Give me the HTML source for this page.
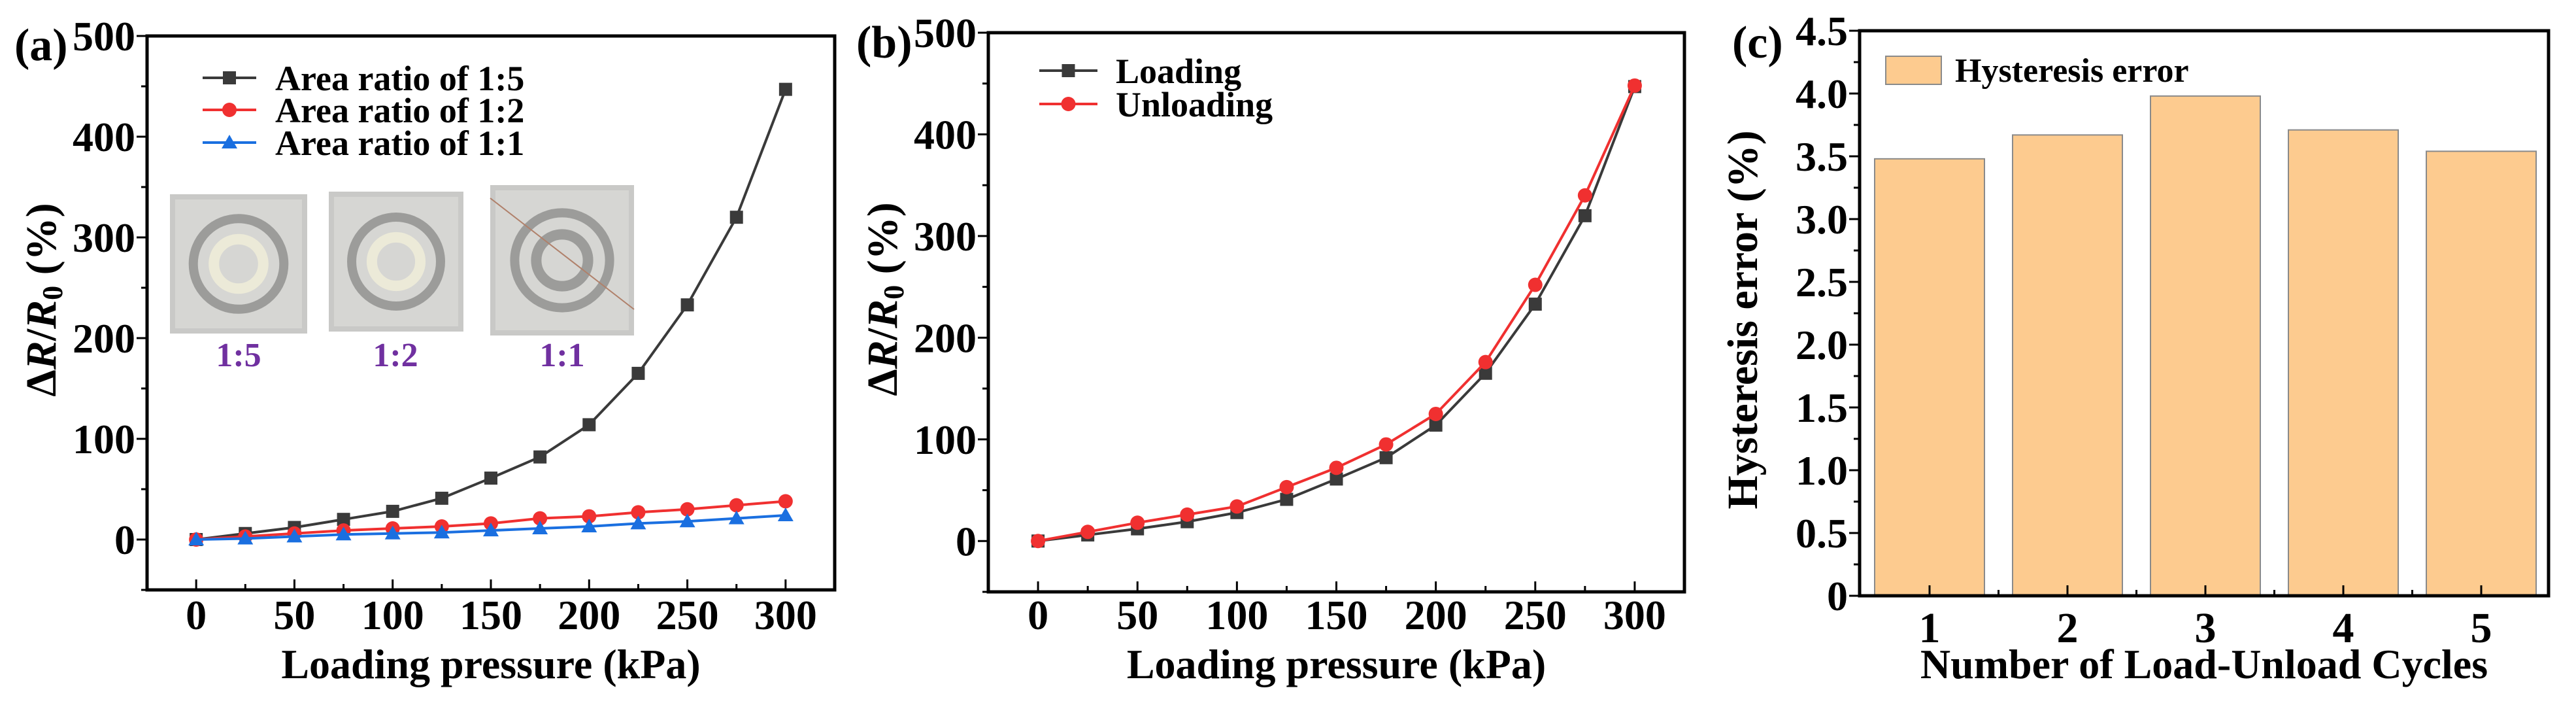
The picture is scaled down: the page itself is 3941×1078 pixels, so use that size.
<!DOCTYPE html>
<html><head><meta charset="utf-8">
<style>
html,body{margin:0;padding:0;background:#fff;}
svg{display:block;font-family:"Liberation Serif",serif;font-weight:bold;}
</style></head>
<body>
<svg id="fig" width="3941" height="1078" viewBox="0 0 3941 1078" xmlns="http://www.w3.org/2000/svg">
<g id="pa"></g>
<g id="pb"></g>
<g id="pc"></g>
</svg>
<script>
// ---- data ----
const pressures = [0,25,50,75,100,125,150,175,200,225,250,275,300];
const ratio15 = [0,6,12,20,28,41,61,82,114,165,233,320,447];
const ratio12 = [0,3,6,9,11,13,16,21,23,27,30,34,38];
const ratio11 = [0,1,3,5,6,7,9,11,13,16,18,21,24];
const loading = [0,6,12,19,28,41,61,82,114,165,233,320,447];
const unloading = [0,9,18,26,34,53,72,95,125,176,252,340,448];
const cycles = ["1","2","3","4","5"];
const hysteresis = [3.48,3.67,3.98,3.71,3.54];
const xTicksAB = [0,50,100,150,200,250,300];
const yTicksAB = [0,100,200,300,400,500];
const yTicksC = [0,0.5,1.0,1.5,2.0,2.5,3.0,3.5,4.0,4.5];
const yTickLabelsC = ["0","0.5","1.0","1.5","2.0","2.5","3.0","3.5","4.0","4.5"];

const NS="http://www.w3.org/2000/svg";
function mk(parent,tag,attrs,text){const e=document.createElementNS(NS,tag);for(const k in attrs)e.setAttribute(k,attrs[k]);if(text!==undefined)e.textContent=text;parent.appendChild(e);return e;}

function lineAxes(g,L,R,T,B,xmin,xmax,ymin,ymax){
  const sx=v=>L+(v-xmin)/(xmax-xmin)*(R-L);
  const sy=v=>B-(v-ymin)/(ymax-ymin)*(B-T);
  const fr=mk(g,'rect',{x:L,y:T,width:R-L,height:B-T,fill:'none',stroke:'#000','stroke-width':5});
  
  
  for(let v=0;v<=300;v+=25){
    const t=mk(g,'line',{x1:sx(v),x2:sx(v),y1:B,y2:B-(v%50===0?16:9),stroke:'#000','stroke-width':3});
    
    
  }
  xTicksAB.forEach(v=>{
    const t=mk(g,'text',{x:sx(v),y:962,'font-size':64,'text-anchor':'middle'},String(v));
    
    
  });
  for(let v=-50;v<=500;v+=50){
    const t=mk(g,'line',{x1:L,x2:L-(v%100===0?16:9),y1:sy(v),y2:sy(v),stroke:'#000','stroke-width':3});
    
    
  }
  yTicksAB.forEach(v=>{
    const t=mk(g,'text',{x:L-18,y:sy(v)+22,'font-size':64,'text-anchor':'end'},String(v));
    
    
  });
  const xl=mk(g,'text',{x:(L+R)/2,y:1037,'font-size':64,'text-anchor':'middle'},'Loading pressure (kPa)');
  
  
  const yl=mk(g,'text',{x:0,y:0,'font-size':66,'text-anchor':'middle',transform:`translate(${L-140},${(T+B)/2-20}) rotate(-90)`});
  
  
  yl.innerHTML='Δ<tspan font-style="italic">R</tspan>/<tspan font-style="italic">R</tspan><tspan font-size="44" dy="10">0</tspan><tspan dy="-10"> (%)</tspan>';
  return {sx,sy};
}
function marker(g,shape,x,y,color){
  let m;
  if(shape==='square') m=mk(g,'rect',{x:x-10,y:y-10,width:20,height:20,fill:color});
  else if(shape==='circle') m=mk(g,'circle',{cx:x,cy:y,r:11,fill:color});
  else m=mk(g,'polygon',{points:`${x},${y-12} ${x+12},${y+9} ${x-12},${y+9}`,fill:color});
  return m;
}
function series(g,ax,xs,ys,color,shape,name){
  const sg=mk(g,'g',{});
  
  
  const pts=xs.map((x,i)=>ax.sx(x)+','+ax.sy(ys[i])).join(' ');
  mk(sg,'polyline',{points:pts,fill:'none',stroke:color,'stroke-width':4});
  xs.forEach((x,i)=>{
    const m=marker(sg,shape,ax.sx(x),ax.sy(ys[i]),color);
    
    
  });
}
function legendEntry(g,x1,x2,y,tx,color,shape,label,fs){
  const lg=mk(g,'g',{});
  
  
  mk(lg,'line',{x1:x1,x2:x2,y1:y,y2:y,stroke:color,'stroke-width':4});
  marker(lg,shape,(x1+x2)/2,y,color);
  mk(lg,'text',{x:tx,y:y+19,'font-size':fs},label);
}

// ---- panel a ----
const ga=document.getElementById('pa');
const pl=mk(ga,'text',{x:22,y:92,'font-size':70},'(a)');


// photos
const photos=[[260,297,210,213,'1:5',365],[503,293,206,214,'1:2',605],[750,283,220,230,'1:1',860]];
photos.forEach((p,i)=>{
  const pg=mk(ga,'g',{});
  
  
  mk(pg,'rect',{x:p[0],y:p[1],width:p[2],height:p[3],fill:'#c9c9c7'});
  mk(pg,'rect',{x:p[0]+8,y:p[1]+8,width:p[2]-16,height:p[3]-16,fill:'#d6d6d3'});
  const cx=p[0]+p[2]/2,cy=p[1]+p[3]/2;
  mk(pg,'circle',{cx:cx,cy:cy,r:p[2]*0.33,fill:'none',stroke:'#9c9c9a','stroke-width':14});
  mk(pg,'circle',{cx:cx,cy:cy,r:p[2]*0.18,fill:'none',stroke:i===2?'#9c9c9a':'#ecead8','stroke-width':16});
  mk(pg,'line',{x1:p[0],y1:p[1]+20,x2:p[0]+p[2],y2:p[1]+p[3]-40,stroke:'#b0806a','stroke-width':2,opacity:i===2?1:0});
  const t=mk(ga,'text',{x:p[5],y:560,'font-size':52,fill:'#7030a0','text-anchor':'middle'},p[4]);
  
  
});
const axA=lineAxes(ga,225,1277,55,902,-25,325,-50,500);
series(ga,axA,pressures,ratio15,'#3a3a3a','square','series-ratio-1-5');
series(ga,axA,pressures,ratio12,'#f03030','circle','series-ratio-1-2');
series(ga,axA,pressures,ratio11,'#1a6fe0','triangle','series-ratio-1-1');
legendEntry(ga,310,392,119,421,'#3a3a3a','square','Area ratio of 1:5',54);
legendEntry(ga,310,392,168,421,'#f03030','circle','Area ratio of 1:2',54);
legendEntry(ga,310,392,218,421,'#1a6fe0','triangle','Area ratio of 1:1',54);

// ---- panel b ----
const gb=document.getElementById('pb');
const plb=mk(gb,'text',{x:1310,y:88,'font-size':70},'(b)');


const axB=lineAxes(gb,1512,2577,50,905,-25,325,-50,500);
series(gb,axB,pressures,loading,'#3a3a3a','square','series-loading');
series(gb,axB,pressures,unloading,'#f03030','circle','series-unloading');
legendEntry(gb,1590,1679,108,1707,'#3a3a3a','square','Loading',54);
legendEntry(gb,1590,1679,159,1707,'#f03030','circle','Unloading',54);

// ---- panel c ----
const gc=document.getElementById('pc');
const plc=mk(gc,'text',{x:2650,y:88,'font-size':70},'(c)');


const L=2845,R=3899,T=47,B=911;
const syc=v=>B-v/4.5*(B-T);
const sxc=i=>2952+i*211;
hysteresis.forEach((v,i)=>{
  const b=mk(gc,'rect',{x:sxc(i)-84,y:syc(v),width:168,height:B-syc(v),fill:'#fdcb8f',stroke:'#8a8a8a','stroke-width':2});
  
  
});
const frc=mk(gc,'rect',{x:L,y:T,width:R-L,height:B-T,fill:'none',stroke:'#000','stroke-width':5});


cycles.forEach((c,i)=>{
  const t=mk(gc,'line',{x1:sxc(i),x2:sxc(i),y1:B,y2:B-16,stroke:'#000','stroke-width':3});
  
  
  if(i<cycles.length-1){
    const m=mk(gc,'line',{x1:sxc(i)+105.5,x2:sxc(i)+105.5,y1:B,y2:B-9,stroke:'#000','stroke-width':3});
    
    
  }
  const l=mk(gc,'text',{x:sxc(i),y:982,'font-size':66,'text-anchor':'middle'},c);
  
  
});
for(let v=0;v<=4.5001;v+=0.25){
  const major=Math.abs(v*2-Math.round(v*2))<1e-6;
  const t=mk(gc,'line',{x1:L,x2:L-(major?16:9),y1:syc(v),y2:syc(v),stroke:'#000','stroke-width':3});
  
  
}
yTicksC.forEach((v,i)=>{
  const t=mk(gc,'text',{x:L-18,y:syc(v)+22,'font-size':64,'text-anchor':'end'},yTickLabelsC[i]);
  
  
});
const lgc=mk(gc,'g',{});


mk(lgc,'rect',{x:2885,y:86,width:85,height:43,fill:'#fdcb8f',stroke:'#8a8a8a','stroke-width':2});
mk(lgc,'text',{x:2991,y:125,'font-size':52},'Hysteresis error');
const xlc=mk(gc,'text',{x:(L+R)/2,y:1037,'font-size':64,'text-anchor':'middle'},'Number of Load-Unload Cycles');


const ylc=mk(gc,'text',{x:0,y:0,'font-size':66,'text-anchor':'middle',transform:`translate(${L-157},${(T+B)/2+10}) rotate(-90)`},'Hysteresis error (%)');


</script>
</body></html>
